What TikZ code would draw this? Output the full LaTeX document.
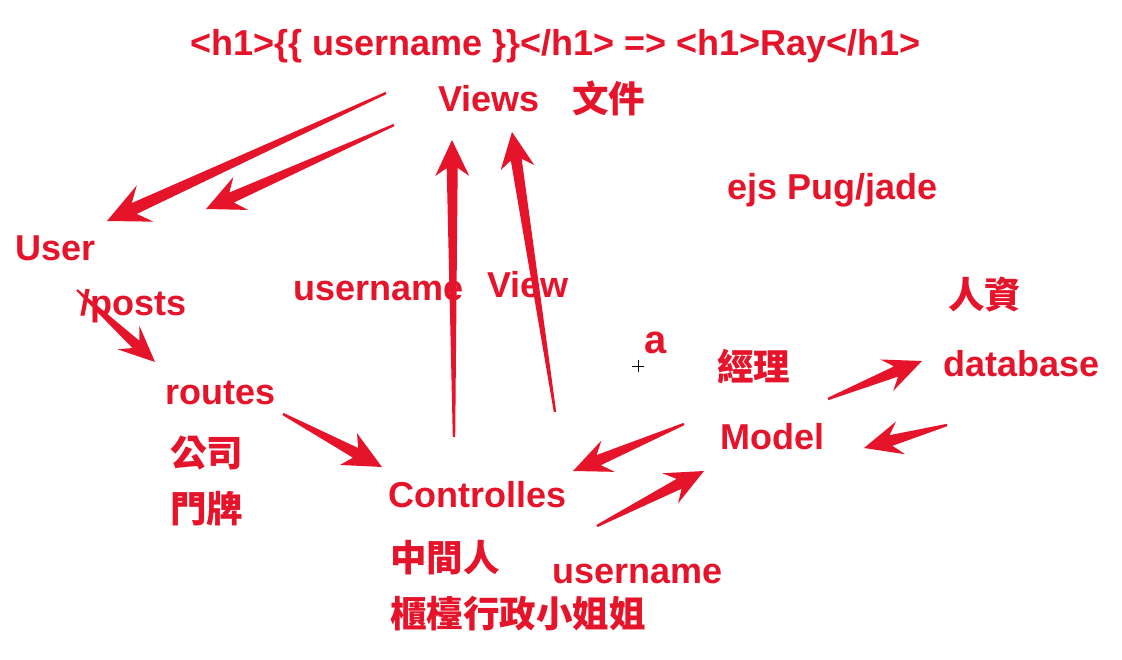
\documentclass[tikz,border=0pt]{standalone}
\usepackage{fontspec}
\setmainfont{Liberation Sans}
\newfontfamily\cjk{Noto Sans CJK TC}
\usetikzlibrary{calc}
\definecolor{redA}{HTML}{E5142A}
\tikzset{
  lbl/.style={text=redA, font=\fontsize{36}{40}\selectfont\bfseries, inner sep=0pt, anchor=base west},
  cjklbl/.style={text=redA, font=\fontsize{36.5}{40}\selectfont\cjk\bfseries, inner sep=0pt, anchor=base west},
  arrowfill/.style={fill=redA},
}
% from, to, tail half width, shaft half width, head half width, head length, barb length
\newcommand\redarrow[7]{%
  \coordinate (tpJ) at ($(#2)!#6!(#1)$);
  \coordinate (tpB) at ($(#2)!#7!(#1)$);
  \fill[arrowfill] ($(#1)!#3!90:(#2)$) -- ($(tpJ)!#4!90:(#2)$) -- ($(tpB)!#5!90:(#2)$) -- (#2)
    -- ($(tpB)!#5!-90:(#2)$) -- ($(tpJ)!#4!-90:(#2)$) -- ($(#1)!#3!-90:(#2)$) -- cycle;}
\begin{document}
\begin{tikzpicture}[x=1pt,y=-1pt]
\useasboundingbox[fill=white] (0,0) rectangle (1122,660);
% labels
\node[lbl] (title) at (190,56) {<h1>\{\{ username \}\}</h1> => <h1>Ray</h1>};
\node[lbl] (views) at (438,112) {Views};
\node[cjklbl] (wenjian) at (572,113) {文件};
\node[lbl] (ejs) at (727,200) {ejs Pug/jade};
\node[lbl] (user) at (15,261) {User};
\node[lbl] (posts) at (80,316) {/posts};
\node[lbl] (routes) at (165,404) {routes};
\node[cjklbl] (gongsi) at (170,466) {公司};
\node[cjklbl] (menpai) at (170,522) {門牌};
\node[lbl] (uname1) at (293,301) {username};
\node[lbl] (view) at (487,298) {View};
\node[lbl, font=\fontsize{40}{44}\selectfont\bfseries] (a) at (644,354) {a};
\node[cjklbl] (jingli) at (717,381) {經理};
\node[lbl] (model) at (720,449) {Model};
\node[cjklbl] (renzi) at (948,309) {人資};
\node[lbl] (db) at (943,376) {database};
\node[lbl] (ctrl) at (388,507) {Controlles};
\node[cjklbl] (zhongjian) at (390,571) {中間人};
\node[lbl] (uname2) at (552,583) {username};
\node[cjklbl] (guitai) at (390,627) {櫃檯行政小姐姐};
% cursor cross
\coordinate (cur) at (638,366);
\draw[black, line width=0.8pt] ($(cur)+(-6,0)$) -- ($(cur)+(6,0)$) ($(cur)+(0,-6)$) -- ($(cur)+(0,6)$);
% arrow end points
\coordinate (a1s) at (386,93);  \coordinate (a1e) at (107,221);
\coordinate (a2s) at (394,125); \coordinate (a2e) at (206,209);
\coordinate (a3s) at (77,290);  \coordinate (a3e) at (155,362);
\coordinate (a4s) at (283,414); \coordinate (a4e) at (382,467);
\coordinate (a5s) at (454,437); \coordinate (a5e) at (452,140);
\coordinate (a6s) at (555,412); \coordinate (a6e) at (512,132);
\coordinate (a7s) at (684,424); \coordinate (a7e) at (573,471);
\coordinate (a8s) at (597,526); \coordinate (a8e) at (704,471);
\coordinate (a9s) at (828,399); \coordinate (a9e) at (922,361);
\coordinate (a10s) at (947,425); \coordinate (a10e) at (864,448);
\redarrow{a1s}{a1e}{1.2pt}{6pt}{20pt}{30pt}{42pt}
\redarrow{a2s}{a2e}{1.2pt}{5.5pt}{18pt}{28pt}{38pt}
\redarrow{a3s}{a3e}{1pt}{5pt}{16pt}{26pt}{36pt}
\redarrow{a4s}{a4e}{1.2pt}{5.5pt}{18pt}{30pt}{38pt}
\redarrow{a5s}{a5e}{1.2pt}{5.5pt}{17pt}{28pt}{36pt}
\redarrow{a6s}{a6e}{1.2pt}{5.5pt}{17pt}{28pt}{36pt}
\redarrow{a7s}{a7e}{1.2pt}{5.5pt}{17pt}{28pt}{38pt}
\redarrow{a8s}{a8e}{1.2pt}{5.5pt}{17pt}{28pt}{38pt}
\redarrow{a9s}{a9e}{1.2pt}{5.5pt}{17pt}{28pt}{38pt}
\redarrow{a10s}{a10e}{1.2pt}{5.5pt}{17pt}{28pt}{38pt}
\end{tikzpicture}
\end{document}
